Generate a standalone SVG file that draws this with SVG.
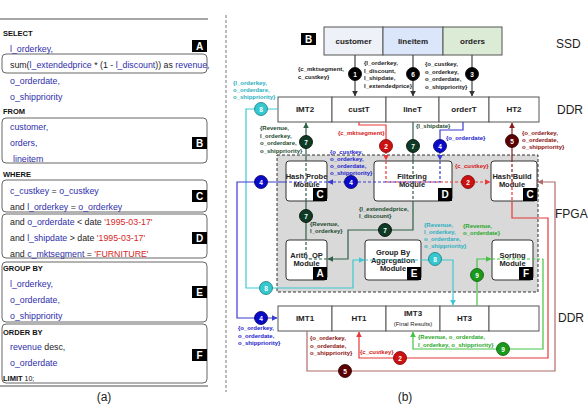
<svg xmlns="http://www.w3.org/2000/svg" width="588" height="406" viewBox="0 0 588 406">
<defs>
<style>
text{font-family:"Liberation Sans",Arial,sans-serif}
.q{font-size:8.8px;fill:#2e2eaa}
.k{fill:#222}
.s{fill:#d62828}
.kw{font-size:7.5px;font-weight:bold;fill:#111}
.qb{fill:none;stroke:#666;stroke-width:1}
.bd{fill:#000}
.bl{fill:#fff;font-size:10px;font-weight:bold;text-anchor:middle}
.cell{stroke:#555;stroke-width:1}
.ct{font-size:8px;font-weight:bold;text-anchor:middle;fill:#222}
.mod{fill:#fff;stroke:#333;stroke-width:1}
.mt{font-size:7.5px;font-weight:bold;text-anchor:middle;fill:#222}
.lab{font-size:6px;font-weight:bold}
.side{font-size:12px;fill:#222}
.n{font-size:6.5px;font-weight:bold;fill:#fff;text-anchor:middle}
.c{fill:none;stroke-width:1.2}
.d{stroke-dasharray:3 2}
</style>
<marker id="mk" viewBox="0 0 10 10" refX="9" refY="5" markerWidth="6" markerHeight="6" markerUnits="userSpaceOnUse" orient="auto"><path d="M0,0 L10,5 L0,10 z" fill="#333"/></marker>
<marker id="mt" viewBox="0 0 10 10" refX="9" refY="5" markerWidth="6" markerHeight="6" markerUnits="userSpaceOnUse" orient="auto"><path d="M0,0 L10,5 L0,10 z" fill="#3cc8d2"/></marker>
<marker id="mg" viewBox="0 0 10 10" refX="9" refY="5" markerWidth="6" markerHeight="6" markerUnits="userSpaceOnUse" orient="auto"><path d="M0,0 L10,5 L0,10 z" fill="#44c444"/></marker>
<marker id="mr" viewBox="0 0 10 10" refX="9" refY="5" markerWidth="6" markerHeight="6" markerUnits="userSpaceOnUse" orient="auto"><path d="M0,0 L10,5 L0,10 z" fill="#e83838"/></marker>
<marker id="mb" viewBox="0 0 10 10" refX="9" refY="5" markerWidth="6" markerHeight="6" markerUnits="userSpaceOnUse" orient="auto"><path d="M0,0 L10,5 L0,10 z" fill="#3a3ad4"/></marker>
<marker id="mdg" viewBox="0 0 10 10" refX="9" refY="5" markerWidth="6" markerHeight="6" markerUnits="userSpaceOnUse" orient="auto"><path d="M0,0 L10,5 L0,10 z" fill="#2f6048"/></marker>
<marker id="mdr" viewBox="0 0 10 10" refX="9" refY="5" markerWidth="6" markerHeight="6" markerUnits="userSpaceOnUse" orient="auto"><path d="M0,0 L10,5 L0,10 z" fill="#8a1c1c"/></marker>
<marker id="mbr" viewBox="0 0 10 10" refX="9" refY="5" markerWidth="6" markerHeight="6" markerUnits="userSpaceOnUse" orient="auto"><path d="M0,0 L10,5 L0,10 z" fill="#b06a6a"/></marker>
</defs>
<rect width="588" height="406" fill="#fff"/>

<!-- (a) SQL panel -->
<g id="sql">
<line x1="0" y1="19" x2="208" y2="19" stroke="#888" stroke-width="1.5"/>
<line x1="0" y1="386" x2="208" y2="386" stroke="#888" stroke-width="1.5"/>
<rect class="qb" x="2" y="54" width="205" height="19" rx="4"/>
<rect class="qb" x="2" y="118" width="205" height="45" rx="4"/>
<rect class="qb" x="2" y="180" width="205" height="32" rx="4"/>
<rect class="qb" x="2" y="214" width="205" height="44" rx="4"/>
<rect class="qb" x="2" y="262" width="205" height="60" rx="4"/>
<rect class="qb" x="2" y="324" width="205" height="59" rx="4"/>
<g id="badgeA"><rect class="bd" x="192" y="40" width="15" height="12"/><text class="bl" x="199.5" y="49.5">A</text></g>
<g id="badgeB"><rect class="bd" x="192" y="137" width="15" height="12"/><text class="bl" x="199.5" y="146.5">B</text></g>
<g id="badgeC"><rect class="bd" x="192" y="190" width="15" height="12"/><text class="bl" x="199.5" y="199.5">C</text></g>
<g id="badgeD"><rect class="bd" x="192" y="232" width="15" height="12"/><text class="bl" x="199.5" y="241.5">D</text></g>
<g id="badgeE"><rect class="bd" x="192" y="286" width="15" height="12"/><text class="bl" x="199.5" y="295.5">E</text></g>
<g id="badgeF"><rect class="bd" x="192" y="349" width="15" height="12"/><text class="bl" x="199.5" y="358.5">F</text></g>
<text class="kw" x="3" y="36">SELECT</text>
<text class="q" x="10" y="52">l_orderkey,</text>
<text class="q" x="10" y="68"><tspan class="k">sum(</tspan>l_extendedprice<tspan class="k"> * (1 - </tspan>l_discount<tspan class="k">)) as </tspan>revenue,</text>
<text class="q" x="10" y="84">o_orderdate,</text>
<text class="q" x="10" y="100">o_shippriority</text>
<text class="kw" x="3" y="114">FROM</text>
<text class="q" x="10" y="130">customer,</text>
<text class="q" x="10" y="146">orders,</text>
<text class="q" x="13" y="162">lineitem</text>
<text class="kw" x="3" y="177">WHERE</text>
<text class="q" x="10" y="194">c_custkey<tspan class="k"> = </tspan>o_custkey</text>
<text class="q" x="10" y="210"><tspan class="k">and </tspan>l_orderkey<tspan class="k"> = </tspan>o_orderkey</text>
<text class="q" x="10" y="225"><tspan class="k">and </tspan>o_orderdate<tspan class="k"> &lt; date </tspan><tspan class="s">'1995-03-17'</tspan></text>
<text class="q" x="10" y="241"><tspan class="k">and </tspan>l_shipdate<tspan class="k"> &gt; date </tspan><tspan class="s">'1995-03-17'</tspan></text>
<text class="q" x="10" y="257"><tspan class="k">and </tspan>c_mktsegment<tspan class="k"> = </tspan><tspan class="s">'FURNITURE'</tspan></text>
<text class="kw" x="3" y="271">GROUP BY</text>
<text class="q" x="10" y="287">l_orderkey,</text>
<text class="q" x="10" y="303">o_orderdate,</text>
<text class="q" x="10" y="319">o_shippriority</text>
<text class="kw" x="3" y="335">ORDER BY</text>
<text class="q" x="10" y="350">revenue<tspan class="k"> desc,</tspan></text>
<text class="q" x="10" y="366">o_orderdate</text>
<text class="kw" x="3" y="381">LIMIT<tspan font-weight="normal" font-size="7px"> 10;</tspan></text>
<text x="104" y="401" font-size="12" text-anchor="middle" fill="#222">(a)</text>
</g>

<line x1="226" y1="15" x2="226" y2="392" stroke="#777" stroke-width="1" stroke-dasharray="3 2"/>

<!-- FPGA area -->
<rect id="fpga" x="277" y="155" width="261" height="137" fill="#d9d9d9" stroke="#333" stroke-width="1" stroke-dasharray="3 2"/>

<!-- side labels -->
<text class="side" x="556" y="48">SSD</text>
<text class="side" x="557" y="114">DDR</text>
<text class="side" x="555" y="218" font-size="11.5px">FPGA</text>
<text class="side" x="558" y="322">DDR</text>
<text x="405" y="401" font-size="12" text-anchor="middle" fill="#222">(b)</text>

<g id="badgeB2"><rect class="bd" x="301" y="33" width="15" height="12"/><text class="bl" x="308.5" y="42.5">B</text></g>

<!-- SSD -->
<g id="ssd-customer"><rect class="cell" x="324" y="27" width="59" height="28" fill="#eef1f7"/><text class="ct" x="353.5" y="44">customer</text></g>
<g id="ssd-lineitem"><rect class="cell" x="383" y="27" width="60" height="28" fill="#dce6fa"/><text class="ct" x="413" y="44">lineitem</text></g>
<g id="ssd-orders"><rect class="cell" x="443" y="27" width="59" height="28" fill="#dcebd6"/><text class="ct" x="472.5" y="44">orders</text></g>

<!-- DDR top -->
<g id="IMT2"><rect class="cell" fill="#fff" x="278" y="97" width="54" height="25"/><text class="ct" x="305" y="112">IMT2</text></g>
<g id="custT"><rect class="cell" fill="#fff" x="332" y="97" width="54" height="25"/><text class="ct" x="359" y="112">custT</text></g>
<g id="lineT"><rect class="cell" fill="#fff" x="386" y="97" width="53" height="25"/><text class="ct" x="412.5" y="112">lineT</text></g>
<g id="orderT"><rect class="cell" fill="#fff" x="439" y="97" width="50" height="25"/><text class="ct" x="464" y="112">orderT</text></g>
<g id="HT2"><rect class="cell" fill="#fff" x="489" y="97" width="50" height="25"/><text class="ct" x="514" y="112">HT2</text></g>

<!-- DDR bottom -->
<g id="IMT1"><rect class="cell" fill="#fff" x="278" y="306" width="54" height="25"/><text class="ct" x="305" y="321">IMT1</text></g>
<g id="HT1"><rect class="cell" fill="#fff" x="332" y="306" width="54" height="25"/><text class="ct" x="359" y="321">HT1</text></g>
<g id="IMT3"><rect class="cell" fill="#fff" x="386" y="306" width="54" height="25"/><text class="ct" x="413" y="316">IMT3</text><text x="413" y="325.5" font-size="6px" text-anchor="middle" fill="#222">(Final Results)</text></g>
<g id="HT3"><rect class="cell" fill="#fff" x="440" y="306" width="49" height="25"/><text class="ct" x="464.5" y="321">HT3</text></g>
<g id="ddr-empty"><rect class="cell" fill="#fff" x="489" y="306" width="50" height="25"/></g>

<!-- Modules -->
<g id="hash-probe"><rect class="mod" x="286" y="161" width="41" height="40" rx="3"/><text class="mt" x="306.5" y="179">Hash Probe</text><text class="mt" x="306.5" y="187">Module</text><rect class="bd" x="313" y="188" width="14" height="13"/><text class="bl" x="320" y="198">C</text></g>
<g id="filtering"><rect class="mod" x="374" y="161" width="78" height="40" rx="3"/><text class="mt" x="412" y="179">Filtering</text><text class="mt" x="412" y="187">Module</text><rect class="bd" x="438" y="188" width="14" height="13"/><text class="bl" x="445" y="198">D</text></g>
<g id="hash-build"><rect class="mod" x="491" y="161" width="46" height="40" rx="3"/><text class="mt" x="512" y="179">Hash Build</text><text class="mt" x="512" y="187">Module</text><rect class="bd" x="523" y="188" width="14" height="13"/><text class="bl" x="530" y="198">C</text></g>
<g id="arith-op"><rect class="mod" x="286" y="240" width="41" height="40" rx="3"/><text class="mt" x="306.5" y="258">Arith_OP</text><text class="mt" x="306.5" y="266">Module</text><rect class="bd" x="313" y="267" width="14" height="13"/><text class="bl" x="320" y="277">A</text></g>
<g id="group-by"><rect class="mod" x="365" y="240" width="56" height="40" rx="3"/><text class="mt" x="393" y="255">Group By</text><text class="mt" x="393" y="263">Aggregation</text><text class="mt" x="393" y="271">Module</text><rect class="bd" x="407" y="267" width="14" height="13"/><text class="bl" x="414" y="277">E</text></g>
<g id="sorting"><rect class="mod" x="492" y="240" width="41" height="40" rx="3"/><text class="mt" x="512.5" y="258">Sorting</text><text class="mt" x="512.5" y="266">Module</text><rect class="bd" x="519" y="267" width="14" height="13"/><text class="bl" x="526" y="277">F</text></g>

<!-- Connectors -->
<g id="connectors">
<g><path class="c" stroke="#444" d="M355,55 V96" marker-end="url(#mk)"/><path class="c" stroke="#444" d="M413,55 V96" marker-end="url(#mk)"/><path class="c" stroke="#444" d="M472,55 V96" marker-end="url(#mk)"/></g>
<g stroke="#3cc8d2"><path class="c" d="M278,109 H246 V288 H353 V260 H364" marker-end="url(#mt)"/><path class="c d" d="M365,260 H421"/><path class="c" d="M421,260 H453 V305" marker-end="url(#mt)"/></g>
<g stroke="#44c444"><path class="c" d="M477,306 V259 H491" marker-end="url(#mg)"/><path class="c d" d="M492,259 H543"/><path class="c" d="M543,259 V349 H413 V332" marker-end="url(#mg)"/></g>
<g stroke="#e83838"><path class="c" d="M359,122 V125 H386 V146"/><path class="c d" d="M386,146 V160" marker-end="url(#mr)"/><path class="c d" d="M386,161 V182 H490" marker-end="url(#mr)"/><path class="c d" d="M512,182 V201"/><path class="c" d="M512,201 V218 H548 V358 H359 V332" marker-end="url(#mr)"/></g>
<g stroke="#b06a6a"><path class="c" d="M307,331 V371 H555 V182 H538" marker-end="url(#mbr)"/></g>
<g stroke="#8a1c1c"><path class="c d" d="M512,182 V161"/><path class="c" d="M512,161 V123" marker-end="url(#mdr)"/></g>
<g stroke="#3a3ad4"><path class="c" d="M463,122 V130 H440 V146"/><path class="c d" d="M440,146 V160" marker-end="url(#mb)"/><path class="c d" d="M440,161 V182 H328" marker-end="url(#mb)"/><path class="c d" d="M327,182 H286"/><path class="c" d="M286,182 H237 V318 H277" marker-end="url(#mb)"/></g>
<g stroke="#2f6048"><path class="c" d="M413,122 V161"/><path class="c d" d="M413,161 V201"/><path class="c" d="M413,201 V230 H348 V259 H328" marker-end="url(#mdg)"/><path class="c d" d="M327,259 H306 V240"/><path class="c" d="M306,240 V201"/><path class="c d" d="M306,201 V161"/><path class="c" d="M306,161 V123" marker-end="url(#mdg)"/></g>

<!-- step circles -->
<g stroke-width="0.8">
<circle cx="355" cy="74" r="6.5" fill="#000" stroke="#000"/><text class="n" x="355" y="76.5">1</text>
<circle cx="413" cy="74" r="6.5" fill="#000" stroke="#000"/><text class="n" x="413" y="76.5">6</text>
<circle cx="472" cy="74" r="6.5" fill="#000" stroke="#000"/><text class="n" x="472" y="76.5">3</text>
<circle cx="261" cy="109" r="6.5" fill="#35c8d0" stroke="#167b80"/><text class="n" x="261" y="111.5">8</text>
<circle cx="266" cy="288" r="6.5" fill="#35c8d0" stroke="#167b80"/><text class="n" x="266" y="290.5">8</text>
<circle cx="435" cy="259" r="6.5" fill="#35c8d0" stroke="#167b80"/><text class="n" x="435" y="261.5">8</text>
<circle cx="306" cy="142" r="6.5" fill="#0e3b26" stroke="#000"/><text class="n" x="306" y="144.5">7</text>
<circle cx="413" cy="146" r="6.5" fill="#0e3b26" stroke="#000"/><text class="n" x="413" y="148.5">7</text>
<circle cx="306" cy="216" r="6.5" fill="#0e3b26" stroke="#000"/><text class="n" x="306" y="218.5">7</text>
<circle cx="385" cy="230" r="6.5" fill="#0e3b26" stroke="#000"/><text class="n" x="385" y="232.5">7</text>
<circle cx="386" cy="146" r="6.5" fill="#cc1111" stroke="#700"/><text class="n" x="386" y="148.5">2</text>
<circle cx="468" cy="182" r="6.5" fill="#cc1111" stroke="#700"/><text class="n" x="468" y="184.5">2</text>
<circle cx="400" cy="358" r="6.5" fill="#cc1111" stroke="#700"/><text class="n" x="400" y="360.5">2</text>
<circle cx="440" cy="146" r="6.5" fill="#0a0ac8" stroke="#000060"/><text class="n" x="440" y="148.5">4</text>
<circle cx="351" cy="182" r="6.5" fill="#0a0ac8" stroke="#000060"/><text class="n" x="351" y="184.5">4</text>
<circle cx="261" cy="182" r="6.5" fill="#0a0ac8" stroke="#000060"/><text class="n" x="261" y="184.5">4</text>
<circle cx="261" cy="318" r="6.5" fill="#0a0ac8" stroke="#000060"/><text class="n" x="261" y="320.5">4</text>
<circle cx="512" cy="141" r="6.5" fill="#5c0000" stroke="#2a0000"/><text class="n" x="512" y="143.5">5</text>
<circle cx="345" cy="371" r="6.5" fill="#5c0000" stroke="#2a0000"/><text class="n" x="345" y="373.5">5</text>
<circle cx="477" cy="275" r="6.5" fill="#1a9a1a" stroke="#0a5a0a"/><text class="n" x="477" y="277.5">9</text>
<circle cx="503" cy="349" r="6.5" fill="#1a9a1a" stroke="#0a5a0a"/><text class="n" x="503" y="351.5">9</text>
</g>

<!-- connector labels -->
<g class="lab">
<text class="lab" fill="#222" x="298" y="71">{c_mktsegment,</text>
<text class="lab" fill="#222" x="298" y="78.5">c_custkey}</text>
<text class="lab" fill="#222" x="364" y="65">{l_orderkey,</text>
<text class="lab" fill="#222" x="364" y="72.5">l_discount,</text>
<text class="lab" fill="#222" x="364" y="80">l_shipdate,</text>
<text class="lab" fill="#222" x="364" y="87.5">l_extendedprice}</text>
<text class="lab" fill="#222" x="425" y="66">{o_custkey,</text>
<text class="lab" fill="#222" x="425" y="73.5">o_orderkey,</text>
<text class="lab" fill="#222" x="425" y="81">o_orderdate,</text>
<text class="lab" fill="#222" x="425" y="88.5">o_shippriority}</text>

<text class="lab" fill="#2ab0c0" x="233" y="85">{l_orderkey,</text>
<text class="lab" fill="#2ab0c0" x="233" y="92">o_orderdare,</text>
<text class="lab" fill="#2ab0c0" x="233" y="99">o_shippriority}</text>
<text class="lab" fill="#2ab0c0" x="424" y="227">{Revenue,</text>
<text class="lab" fill="#2ab0c0" x="424" y="234">l_orderkey,</text>
<text class="lab" fill="#2ab0c0" x="424" y="241">o_orderdare,</text>
<text class="lab" fill="#2ab0c0" x="424" y="248">o_shippriority}</text>

<text class="lab" fill="#1c4a30" x="260" y="130">{Revenue,</text>
<text class="lab" fill="#1c4a30" x="260" y="137.5">l_orderkey,</text>
<text class="lab" fill="#1c4a30" x="260" y="145">o_orderdare,</text>
<text class="lab" fill="#1c4a30" x="260" y="152.5">o_shippriority}</text>
<text class="lab" fill="#1c4a30" x="310" y="226">{Revenue,</text>
<text class="lab" fill="#1c4a30" x="310" y="233">l_orderkey}</text>
<text class="lab" fill="#1c4a30" x="359" y="211">{l_extendedprice,</text>
<text class="lab" fill="#1c4a30" x="359" y="218">l_discount}</text>
<text class="lab" fill="#1c4a30" x="416" y="128">{l_shipdate}</text>

<text class="lab" fill="#d42020" x="338" y="135">{c_mktsegment}</text>
<text class="lab" fill="#d42020" x="455" y="168">{c_custkey}</text>
<text class="lab" fill="#d42020" x="360" y="354">{c_custkey}</text>

<text class="lab" fill="#2222cc" x="446" y="140">{o_orderdate}</text>
<text class="lab" fill="#2222cc" x="330" y="154">{o_custkey,</text>
<text class="lab" fill="#2222cc" x="330" y="161">o_orderkey,</text>
<text class="lab" fill="#2222cc" x="330" y="168">o_orderdate,</text>
<text class="lab" fill="#2222cc" x="330" y="175">o_shippriority}</text>
<text class="lab" fill="#2222cc" x="238" y="330">{o_orderkey,</text>
<text class="lab" fill="#2222cc" x="238" y="337.5">o_orderdate,</text>
<text class="lab" fill="#2222cc" x="238" y="345">o_shippriority}</text>

<text class="lab" fill="#8a1010" x="522" y="135">{o_orderkey,</text>
<text class="lab" fill="#8a1010" x="522" y="142">o_orderdate,</text>
<text class="lab" fill="#8a1010" x="522" y="149">o_shippriority}</text>
<text class="lab" fill="#8a1010" x="310" y="340">{o_orderkey,</text>
<text class="lab" fill="#8a1010" x="310" y="347.5">o_orderdate,</text>
<text class="lab" fill="#8a1010" x="310" y="355">o_shippriority}</text>

<text class="lab" fill="#2aa82a" x="463" y="228">{Revenue,</text>
<text class="lab" fill="#2aa82a" x="463" y="235">o_orderdate}</text>
<text class="lab" fill="#2aa82a" x="418" y="339">{Revenue, o_orderdate,</text>
<text class="lab" fill="#2aa82a" x="418" y="346.5">l_orderkey, o_shippriority}</text>
</g>
</g>
</svg>
